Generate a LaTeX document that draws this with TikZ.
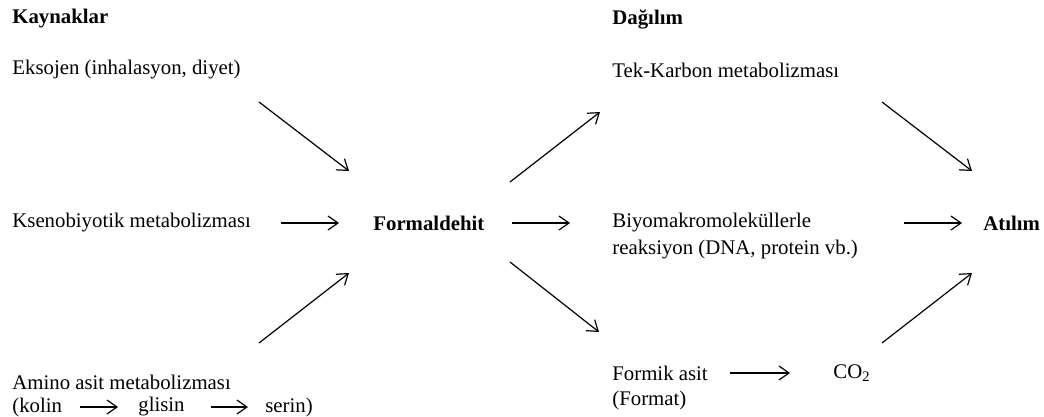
\documentclass[tikz,border=0pt]{standalone}
\usepackage{fontspec}
\setmainfont{Liberation Serif}
\usetikzlibrary{arrows.meta}
\tikzset{
  every node/.style={inner sep=0pt, anchor=west, font=\fontsize{10.4}{13.5}\selectfont},
  lbl/.style={align=left},
  hd/.style={font=\fontsize{10.4}{13.5}\selectfont\bfseries},
  arr/.style={-{Straight Barb[length=5pt,width=7pt]}, line width=0.6pt},
}
\begin{document}
\begin{tikzpicture}[x=0.5pt,y=-0.5pt]
  \useasboundingbox (0,0) rectangle (1044,417);
  % column heads
  \node[hd] (kay) at (12,19)  {Kaynaklar};
  \node[hd] (dag) at (612,19) {Dağılım};

  % sources
  \node (eks) at (12,70)  {Eksojen (inhalasyon, diyet)};
  \node (ksn) at (12,223) {Ksenobiyotik metabolizması};
  \node (ami) at (12,382) {Amino asit metabolizması};
  \node (kol) at (12,407)  {(kolin};
  \node (gli) at (138,407) {glisin};
  \node (ser) at (265,407) {serin)};
  \node[hd] (fa) at (373,223) {Formaldehit};

  % distribution
  \node (tek) at (612,70) {Tek-Karbon metabolizması};
  \node[lbl] (bio) at (612,236.5) {Biyomakromoleküllerle\\reaksiyon (DNA, protein vb.)};
  \node (fmk) at (612,373) {Formik asit};
  \node (fmt) at (612,400) {(Format)};
  \node (co)  at (833,373) {CO\textsubscript{2}};
  \node[hd] (atl) at (983,223) {Atılım};

  % free ends of the slanted arrows
  \coordinate (eks-s) at (259,102); \coordinate (fa-nw) at (349,171);
  \coordinate (ami-n) at (259,343); \coordinate (fa-sw) at (349,273);
  \coordinate (fa-ne) at (510,182); \coordinate (tek-w) at (600,112);
  \coordinate (fa-se) at (510,262); \coordinate (fmk-n) at (599,332);
  \coordinate (tek-s) at (882,102); \coordinate (atl-nw) at (972,171);
  \coordinate (co-n)  at (882,343); \coordinate (atl-sw) at (972,273);

  \draw[arr] (eks-s) -- (fa-nw);
  \draw[arr] (ami-n) -- (fa-sw);
  \draw[arr] (fa-ne) -- (tek-w);
  \draw[arr] (fa-se) -- (fmk-n);
  \draw[arr] (tek-s) -- (atl-nw);
  \draw[arr] (co-n)  -- (atl-sw);

  % straight arrows
  \draw[arr, shorten <=15pt, shorten >=17pt] (ksn.east) -- (fa.west);
  \draw[arr, shorten <=13.5pt, shorten >=21pt] (fa.east) -- (fa.east -| bio.west);
  \draw[arr, shorten <=23pt, shorten >=10.5pt] (atl.west -| bio.east) -- (atl.west);
  \draw[arr, shorten <=11pt, shorten >=21.5pt] (fmk.east) -- (co.west);
  \draw[arr, shorten <=9pt, shorten >=10pt] (kol.east) -- (gli.west);
  \draw[arr, shorten <=13pt, shorten >=8.5pt] (gli.east) -- (ser.west);
\end{tikzpicture}
\end{document}
